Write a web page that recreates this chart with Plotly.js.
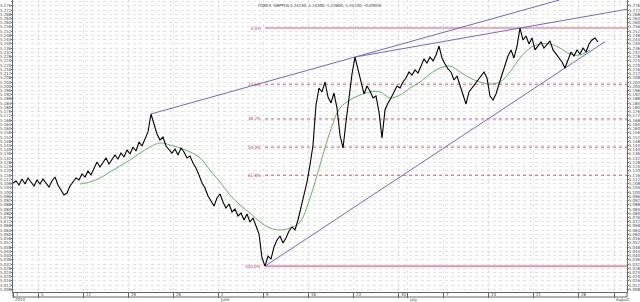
<!DOCTYPE html>
<html><head><meta charset="utf-8">
<script src="https://cdn.plot.ly/plotly-3.0.1.min.js"></script>
<style>html,body{margin:0;padding:0;background:#fff}#chart{width:640px;height:302px}</style>
</head><body><div id="chart"></div>
<script>
// ---- data (x in trading days from 1 May 2014, weekends removed) ----
const headerText = 'FOREX: GBPPLN 5.24230, 5.24300, 5.23600, 5.24230, -0.00050';
const priceStart = -7/9;      // first sample, trading days
const priceStep = 1/3;        // 8-hour samples
const price = [
5.1086,5.1105,5.1067,5.1123,5.1076,5.1133,5.1095,5.1057,5.1114,5.1076,
5.1123,5.1086,5.1048,5.1105,5.1142,5.1067,5.1020,5.0972,5.0991,5.1057,
5.1095,5.1133,5.1114,5.1171,5.1142,5.1199,5.1161,5.1227,5.1284,5.1237,
5.1275,5.1322,5.1265,5.1303,5.1350,5.1312,5.1369,5.1331,5.1398,5.1360,
5.1426,5.1388,5.1473,5.1435,5.1511,5.1568,5.1738,5.1634,5.1549,5.1492,
5.1520,5.1435,5.1398,5.1369,5.1407,5.1350,5.1416,5.1379,5.1322,5.1341,
5.1275,5.1227,5.1161,5.1086,5.1038,5.0963,5.0916,5.0868,5.0944,5.0982,
5.0906,5.0849,5.0887,5.0812,5.0840,5.0774,5.0802,5.0736,5.0793,5.0717,
5.0755,5.0679,5.0604,5.0377,5.0300,5.0396,5.0367,5.0481,5.0547,5.0585,
5.0519,5.0566,5.0632,5.0670,5.0642,5.0736,5.0849,5.0963,5.1095,5.1256,
5.1445,5.1823,5.1983,5.1946,5.2040,5.1898,5.1842,5.1936,5.1794,5.1539,
5.1416,5.1662,5.1889,5.2116,5.2276,5.2154,5.2021,5.1927,5.2002,5.1955,
5.1889,5.1908,5.1757,5.1511,5.1776,5.1842,5.1889,5.1946,5.2002,5.1983,
5.2040,5.2078,5.2135,5.2106,5.2154,5.2125,5.2201,5.2257,5.2220,5.2276,
5.2239,5.2295,5.2380,5.2267,5.2210,5.2163,5.2135,5.2059,5.2097,5.2002,
5.1908,5.1832,5.1946,5.1983,5.2021,5.2059,5.2097,5.2135,5.2078,5.1908,
5.1870,5.1927,5.2021,5.2116,5.2210,5.2286,5.2343,5.2267,5.2380,5.2550,
5.2437,5.2475,5.2399,5.2456,5.2343,5.2380,5.2418,5.2361,5.2399,5.2428,
5.2343,5.2305,5.2267,5.2229,5.2172,5.2248,5.2324,5.2286,5.2343,5.2305,
5.2361,5.2324,5.2399,5.2437,5.2456,5.2418
];
const maStart = 20/3;
const maStep = 10/9;
const movingAvg = [
5.1076,5.1095,5.1133,5.1190,5.1246,5.1303,5.1369,5.1426,5.1464,5.1445,
5.1416,5.1379,5.1322,5.1209,5.1095,5.0972,5.0878,5.0802,5.0717,5.0660,
5.0642,5.0660,5.0717,5.0944,5.1256,5.1568,5.1794,5.1870,5.1917,5.1946,
5.1946,5.1889,5.1917,5.1983,5.2040,5.2116,5.2172,5.2191,5.2135,5.2078,
5.2040,5.2021,5.2040,5.2135,5.2267,5.2361,5.2399,5.2399,5.2361,5.2305,
5.2295,5.2343
];
const xRange = [-7/9, 67.444];
const yRange = [5.00556, 5.2815];
const tickDays   = [-7/9, 2, 7, 12, 17, 22, 27, 32, 37, 42, 43, 47, 52, 57, 62, 66];
const tickLabels = ['1','5','12','19','26','2','9','16','23','30','','7','14','21','28',''];
const monthDays   = [-7/9, 22, 43, 66];
const monthLabels = ['2014','June','July','August'];
const fibRatios = [0, 0.236, 0.382, 0.5, 0.618, 1];
const fibLabels = ['0.0%','23.6%','38.2%','50.0%','61.8%','100.0%'];
// trendline anchor sample indices into price
const trendUpperA = [46, 114];
const trendUpperB = [114, 169];
const trendLower  = [84, 184];

// ---- build ----
const px = price.map((_, i) => priceStart + i * priceStep);
const mx = movingAvg.map((_, i) => maStart + i * maStep);
const hi = Math.max(...price), lo = Math.min(...price);
const loX = px[price.indexOf(lo)];

function lineThrough(a, b, xEnd) {
  const x0 = px[a], y0 = price[a], x1 = px[b], y1 = price[b];
  const s = (y1 - y0) / (x1 - x0);
  return {x: [x0, xEnd], y: [y0, y0 + s * (xEnd - x0)]};
}
function xAtTop(a, b) {
  const s = (price[b] - price[a]) / (px[b] - px[a]);
  return px[a] + (yRange[1] - price[a]) / s;
}
const blue = 'rgb(105,105,225)';
const traces = [];
fibRatios.forEach((r, k) => {
  const lvl = hi - r * (hi - lo);
  const edge = (r === 0 || r === 1);
  traces.push({x: [loX, xRange[1]], y: [lvl, lvl], mode: 'lines', hoverinfo: 'skip',
    line: {color: edge ? 'rgb(242,140,155)' : 'rgb(232,80,100)', width: edge ? 1.6 : 1, dash: edge ? 'solid' : 'dot'}});
});
[lineThrough(trendUpperA[0], trendUpperA[1], xAtTop(trendUpperA[0], trendUpperA[1])),
 lineThrough(trendUpperB[0], trendUpperB[1], xRange[1]),
 lineThrough(trendLower[0], trendLower[1], px[px.length - 1] + 0.8)].forEach(l => {
  traces.push({x: l.x, y: l.y, mode: 'lines', hoverinfo: 'skip', line: {color: blue, width: 1}});
});
traces.push({x: mx, y: movingAvg, mode: 'lines', line: {color: 'rgb(95,185,95)', width: 1, shape: 'spline'}});
traces.push({x: px, y: price, mode: 'lines', line: {color: '#000', width: 1.1}});
traces.push({x: [null], y: [null], yaxis: 'y2', mode: 'lines', hoverinfo: 'skip'});

const fam = 'Liberation Sans Narrow, DejaVu Sans Condensed, Liberation Sans, Arial, sans-serif';
const tf = {family: fam, size: 4.3, color: '#444'};
const H = 292;
const annotations = [];
annotations.push({xref: 'paper', yref: 'paper', x: 0.5, y: 1, yanchor: 'top', yshift: -0.5,
  text: headerText, showarrow: false, font: tf});
tickDays.forEach((d, i) => {
  if (!tickLabels[i]) return;
  annotations.push({xref: 'x', yref: 'paper', x: d, y: -2.6 / H, xanchor: 'left', yanchor: 'middle',
    xshift: 0.5, text: tickLabels[i], showarrow: false, font: tf});
});
monthDays.forEach((d, i) => {
  annotations.push({xref: 'x', yref: 'paper', x: d, y: -7.6 / H, xanchor: 'left', yanchor: 'middle',
    xshift: 0, text: monthLabels[i], showarrow: false, font: tf});
});
fibRatios.forEach((r, k) => {
  const lvl = hi - r * (hi - lo);
  annotations.push({xref: 'x', yref: 'y', x: loX, y: lvl, xanchor: 'right', yanchor: 'middle',
    xshift: -2, text: fibLabels[k], showarrow: false,
    font: {family: fam, size: 4.5, color: 'rgb(220,40,60)'}});
});

const yax = {range: yRange, tickmode: 'linear', tick0: 5.0, dtick: 0.004, tickformat: '.3f',
  ticks: 'outside', ticklen: 1, tickcolor: '#777', tickfont: tf, showline: true, linecolor: '#666',
  linewidth: 1, zeroline: false, fixedrange: true, ticklabelstandoff: -1};
const layout = {
  width: 640, height: 302,
  margin: {l: 13, r: 13, t: 0, b: 10, pad: 0},
  paper_bgcolor: '#fff', plot_bgcolor: '#fff', showlegend: false,
  xaxis: {range: xRange, tickmode: 'array', tickvals: tickDays, showticklabels: false,
    ticks: 'outside', ticklen: 5, tickcolor: '#666', tickwidth: 1,
    showgrid: true, gridcolor: '#e2e2e2', griddash: 'dot', gridwidth: 1,
    showline: true, linecolor: '#666', linewidth: 1, zeroline: false, fixedrange: true},
  yaxis: Object.assign({}, yax, {side: 'left', showgrid: true, gridcolor: '#e2e2e2', griddash: 'dot', gridwidth: 1}),
  yaxis2: Object.assign({}, yax, {side: 'right', overlaying: 'y', showgrid: false}),
  annotations: annotations,
  shapes: [
    {type: 'line', xref: 'paper', yref: 'paper', x0: 0, x1: 1, y0: -5 / H, y1: -5 / H, line: {color: '#666', width: 1}},
    {type: 'line', xref: 'paper', yref: 'paper', x0: 0, x1: 0, y0: 0, y1: -5 / H, line: {color: '#666', width: 1}},
    {type: 'line', xref: 'paper', yref: 'paper', x0: 1, x1: 1, y0: 0, y1: -5 / H, line: {color: '#666', width: 1}}
  ]
};
Plotly.newPlot('chart', traces, layout, {staticPlot: true, displayModeBar: false});
</script>
</body></html>
